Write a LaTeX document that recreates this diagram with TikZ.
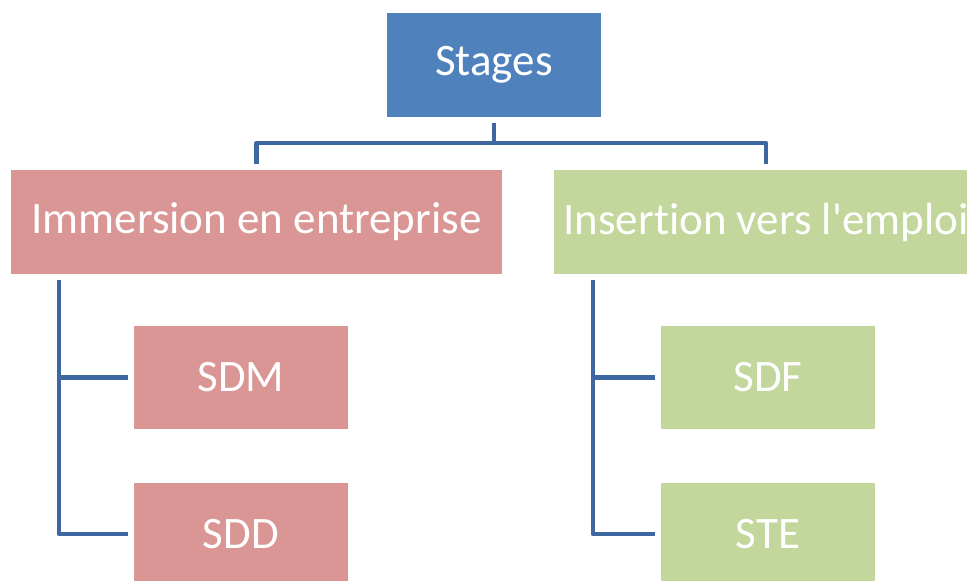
\documentclass[tikz,border=0pt]{standalone}
\usepackage{fontspec}
\newfontfamily\boxfont{Carlito}[Ligatures=CommonOff]
\usepackage{tikz}
\definecolor{stageblue}{HTML}{4F81BD}
\definecolor{stagered}{HTML}{D99694}
\definecolor{stagegreen}{HTML}{C3D69B}
\definecolor{linkblue}{RGB}{62,102,160}
\tikzset{
  stagebox/.style={inner sep=0pt,minimum height=104pt,text=white,
    font=\boxfont\fontsize{45}{52}\selectfont},
  link/.style={draw=linkblue,line width=4.5pt,line join=round,
    shorten <=6pt,shorten >=6pt}
}
\begin{document}
\begin{tikzpicture}[x=1pt,y=-1pt]
\useasboundingbox (0,0) rectangle (967,581);
\clip (0,0) rectangle (967,581);
\node[stagebox,fill=stageblue,minimum width=214pt] (stages) at (494,65) {Stages};
\node[stagebox,fill=stagered,minimum width=491pt] (immersion) at (256.5,222) {Immersion en entreprise};
\node[stagebox,fill=stagegreen,minimum width=424pt] (insertion) at (766,222) {Insertion vers l'emploi};
\node[stagebox,fill=stagered,minimum width=214pt,minimum height=103pt] (sdm) at (241,377.5) {SDM};
\node[stagebox,fill=stagered,minimum width=214pt,minimum height=103pt] (sdd) at (241,534) {SDD};
\node[stagebox,fill=stagegreen,minimum width=214pt,minimum height=103pt] (sdf) at (768,377.5) {SDF};
\node[stagebox,fill=stagegreen,minimum width=214pt,minimum height=103pt] (ste) at (768,534) {STE};
\draw[link] (stages.south) -- ++(0,26) -| (immersion.north);
\draw[link] (stages.south) -- ++(0,26) -| (insertion.north);
\draw[link] (immersion.south west) ++(48,0) |- (sdm.west);
\draw[link] (immersion.south west) ++(48,0) |- (sdd.west);
\draw[link] (insertion.south west) ++(39,0) |- (sdf.west);
\draw[link] (insertion.south west) ++(39,0) |- (ste.west);
\end{tikzpicture}
\end{document}
